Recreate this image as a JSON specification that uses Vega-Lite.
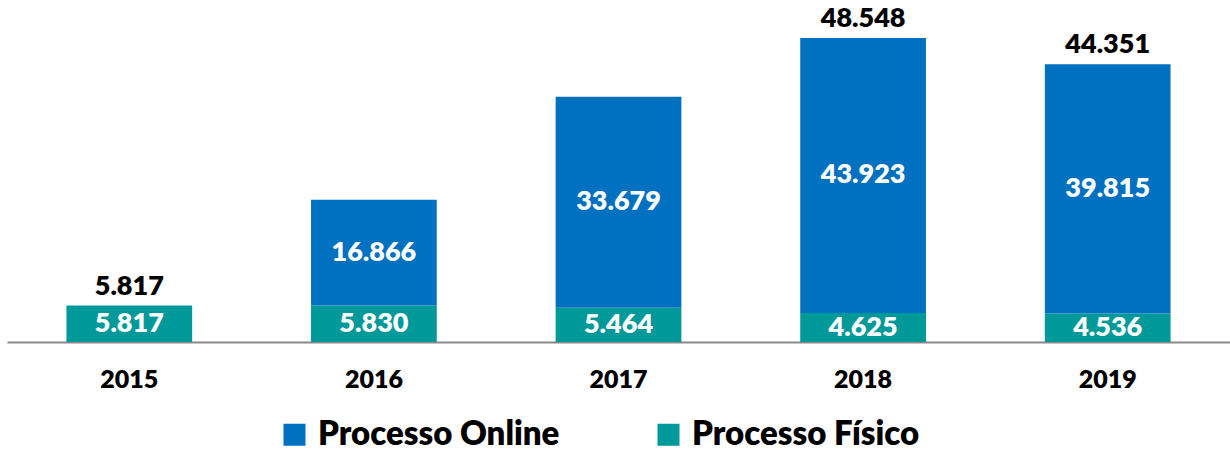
{
  "$schema": "https://vega.github.io/schema/vega-lite/v6.json",
  "width": 1223,
  "height": 342,
  "padding": {"left": 7, "top": 0, "right": 0, "bottom": 0},
  "data": {
    "values": [
      {"year": "2015", "tipo": "Processo Físico", "value": 5.817},
      {"year": "2016", "tipo": "Processo Físico", "value": 5.830},
      {"year": "2016", "tipo": "Processo Online", "value": 16.866},
      {"year": "2017", "tipo": "Processo Físico", "value": 5.464},
      {"year": "2017", "tipo": "Processo Online", "value": 33.679},
      {"year": "2018", "tipo": "Processo Físico", "value": 4.625},
      {"year": "2018", "tipo": "Processo Online", "value": 43.923},
      {"year": "2019", "tipo": "Processo Físico", "value": 4.536},
      {"year": "2019", "tipo": "Processo Online", "value": 39.815}
    ]
  },
  "encoding": {
    "x": {
      "field": "year",
      "type": "nominal",
      "scale": {"paddingInner": 0.486, "paddingOuter": 0.243},
      "axis": {
        "title": null,
        "labelAngle": 0,
        "domainColor": "#898989",
        "domainWidth": 2,
        "ticks": false,
        "labelFont": "Lato",
        "labelFontSize": 25,
        "labelFontWeight": 800,
        "labelColor": "#000000",
        "labelPadding": 25
      }
    }
  },
  "layer": [
    {
      "mark": {"type": "bar"},
      "encoding": {
        "y": {
          "field": "value",
          "type": "quantitative",
          "stack": "zero",
          "scale": {"domain": [0, 54.6], "nice": false},
          "axis": null
        },
        "color": {
          "field": "tipo",
          "type": "nominal",
          "scale": {
            "domain": ["Processo Online", "Processo Físico"],
            "range": ["#0070C0", "#009999"]
          },
          "legend": {
            "orient": "none",
            "legendX": 271,
            "legendY": 418,
            "direction": "horizontal",
            "title": null,
            "symbolType": "square",
            "symbolSize": 484,
            "symbolStrokeWidth": 0,
            "labelFont": "Lato",
            "labelFontSize": 33,
            "labelFontWeight": 800,
            "labelColor": "#000000",
            "labelOffset": 7,
            "columnPadding": 92,
            "labelLimit": 400
          }
        },
        "order": {"field": "tipo", "sort": "ascending"}
      }
    },
    {
      "transform": [
        {
          "stack": "value",
          "groupby": ["year"],
          "sort": [{"field": "tipo", "order": "ascending"}],
          "as": ["v0", "v1"]
        },
        {"calculate": "(datum.v0 + datum.v1) / 2", "as": "mid"}
      ],
      "mark": {
        "type": "text",
        "font": "Lato",
        "fontSize": 27,
        "fontWeight": 800,
        "color": "#ffffff",
        "baseline": "middle"
      },
      "encoding": {
        "y": {"field": "mid", "type": "quantitative"},
        "text": {"field": "value", "type": "quantitative", "format": ".3f"}
      }
    },
    {
      "transform": [
        {"filter": {"field": "year", "oneOf": ["2015", "2018", "2019"]}},
        {"aggregate": [{"op": "sum", "field": "value", "as": "total"}], "groupby": ["year"]}
      ],
      "mark": {
        "type": "text",
        "font": "Lato",
        "fontSize": 27,
        "fontWeight": 800,
        "color": "#000000",
        "baseline": "bottom",
        "dy": -5
      },
      "encoding": {
        "y": {"field": "total", "type": "quantitative"},
        "text": {"field": "total", "type": "quantitative", "format": ".3f"}
      }
    }
  ],
  "config": {
    "view": {"stroke": null}
  }
}
